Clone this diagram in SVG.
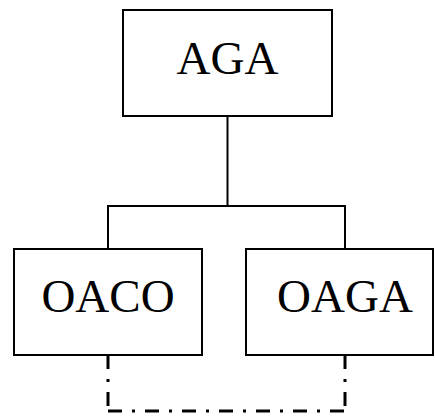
<svg xmlns="http://www.w3.org/2000/svg" width="435" height="417" viewBox="0 0 435 417">
<style>
.box{fill:#fff;stroke:#000;stroke-width:2}
.lbl{font-family:"Liberation Serif","Times New Roman",serif;font-size:47px;fill:#000;text-anchor:middle}
.ln{fill:none;stroke:#000;stroke-width:2}
.dd{fill:none;stroke:#000;stroke-width:3;stroke-dasharray:14 10 3 10}
</style>
<rect width="435" height="417" fill="#fff"/>
<g id="connectors">
<path class="ln" d="M227.5 116V206M108 249V206H345V249"/>
<path class="dd" d="M108 355V411"/>
<path class="dd" d="M345 355V411"/>
<path class="dd" d="M108 411H345"/>
</g>
<g id="aga"><rect class="box" x="123" y="10" width="209" height="106"/><text class="lbl" x="227.5" y="74">AGA</text></g>
<g id="oaco"><rect class="box" x="14" y="249" width="188" height="106"/><text class="lbl" x="108" y="312">OACO</text></g>
<g id="oaga"><rect class="box" x="246" y="249" width="187" height="106"/><text class="lbl" x="345" y="312">OAGA</text></g>
</svg>
